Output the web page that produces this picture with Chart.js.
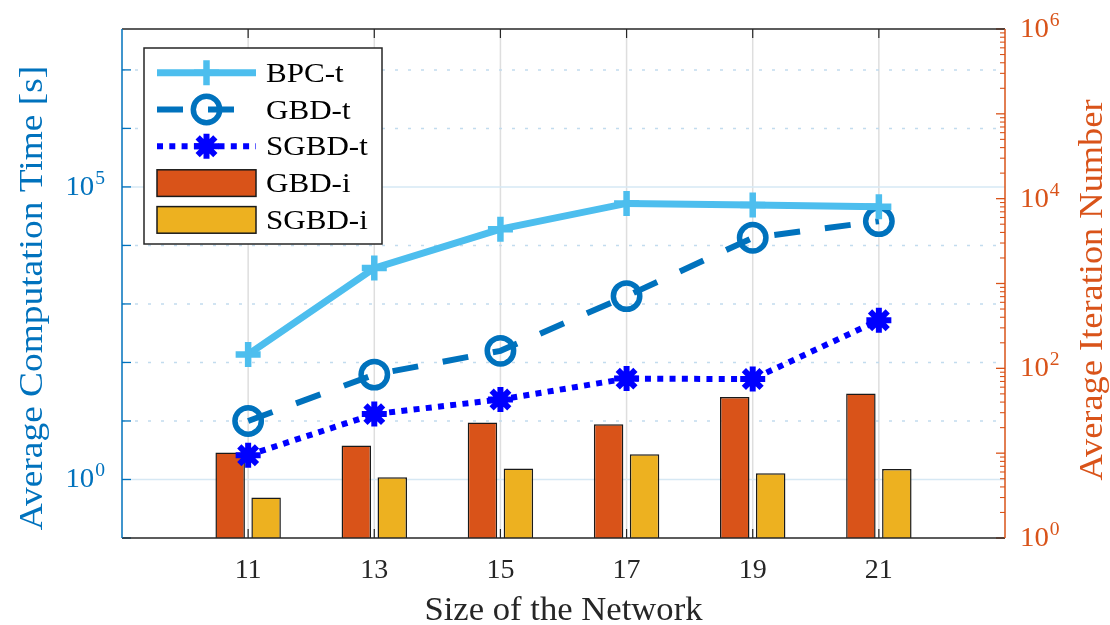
<!DOCTYPE html>
<html>
<head>
<meta charset="utf-8">
<script src="https://cdn.jsdelivr.net/npm/chart.js@4.4.0/dist/chart.umd.min.js"></script>
<style>
  html, body { margin: 0; padding: 0; background: #ffffff; }
  canvas { display: block; }
</style>
</head>
<body>
<canvas id="c" width="1110" height="625"></canvas>
<script>
// Network sizes (x positions)
const sizes = [11, 13, 15, 17, 19, 21];

// Average computation time [s] (left, logarithmic axis)
const bpcTime  = [137, 4100, 19000, 52200, 48900, 45700];
const gbdTime  = [10, 62, 158, 1360, 13500, 26000];
const sgbdTime = [2.6, 13.1, 23.3, 53, 52, 528];

// Average iteration number (right, logarithmic axis)
const gbdIter  = [10.2, 12.3, 23, 21.9, 46, 50.5];
const sgbdIter = [3.0, 5.2, 6.6, 9.7, 5.8, 6.5];

// Labelled decades on each y axis
const leftTickExps  = [0, 5];
const rightTickExps = [0, 2, 4, 6];

const xTitle      = 'Size of the Network';
const yLeftTitle  = 'Average Computation Time [s]';
const yRightTitle = 'Average Iteration Number';

const C_LEFT  = '#0072BD';
const C_RIGHT = '#D95319';
const C_AXIS  = '#262626';
const SERIF   = '"Liberation Serif", "Times New Roman", serif';

const pts = (ys) => sizes.map((x, i) => ({ x, y: ys[i] }));

function txt(ctx, s, x, y, o) {
  ctx.save();
  ctx.translate(x, y);
  if (o.rot) ctx.rotate(o.rot);
  ctx.scale(o.hs || 1, 1);
  ctx.font = `${o.size}px ${SERIF}`;
  ctx.textAlign = o.align || 'left';
  ctx.textBaseline = 'alphabetic';
  ctx.fillStyle = o.color;
  ctx.fillText(s, 0, 0);
  ctx.restore();
}

function powLabel(ctx, exp, x, y, align, color) {
  const hs = 1.03;
  ctx.font = `28px ${SERIF}`;
  const wBase = ctx.measureText('10').width * hs;
  ctx.font = `19px ${SERIF}`;
  const wExp = ctx.measureText(String(exp)).width * hs;
  const gap = 1;
  const x0 = align === 'right' ? x - (wBase + gap + wExp) : x;
  txt(ctx, '10', x0, y + 8, { size: 28, color, hs });
  txt(ctx, String(exp), x0 + wBase + gap, y - 3, { size: 19, color, hs });
}

function marker(ctx, style, x, y, r, color, width) {
  ctx.save();
  ctx.strokeStyle = color;
  ctx.lineWidth = width;
  ctx.setLineDash([]);
  ctx.lineCap = 'butt';
  ctx.beginPath();
  if (style === 'circle') {
    ctx.arc(x, y, r, 0, Math.PI * 2);
  } else {
    ctx.moveTo(x - r, y); ctx.lineTo(x + r, y);
    ctx.moveTo(x, y - r); ctx.lineTo(x, y + r);
    if (style === 'star') {
      const d = r * Math.SQRT1_2;
      ctx.moveTo(x - d, y - d); ctx.lineTo(x + d, y + d);
      ctx.moveTo(x + d, y - d); ctx.lineTo(x - d, y + d);
    }
  }
  ctx.stroke();
  ctx.restore();
}

function hline(ctx, x0, x1, y, color, w, dash) {
  ctx.save();
  ctx.strokeStyle = color; ctx.lineWidth = w; ctx.setLineDash(dash || []);
  ctx.beginPath(); ctx.moveTo(x0, y); ctx.lineTo(x1, y); ctx.stroke();
  ctx.restore();
}
function vline(ctx, x, y0, y1, color, w) {
  ctx.save();
  ctx.strokeStyle = color; ctx.lineWidth = w;
  ctx.beginPath(); ctx.moveTo(x, y0); ctx.lineTo(x, y1); ctx.stroke();
  ctx.restore();
}

const frame = {
  id: 'frame',
  beforeDatasetsDraw(chart) {
    const { ctx, chartArea: a, scales } = chart;
    const yL = scales.yL, x = scales.x;
    // vertical grid at each network size
    sizes.forEach(v => vline(ctx, x.getPixelForValue(v), a.top, a.bottom, '#dedede', 1.5));
    // decade grid of the left axis
    for (let e = 0; e <= 7; e++) {
      const py = yL.getPixelForValue(Math.pow(10, e));
      if (leftTickExps.includes(e)) hline(ctx, a.left, a.right, py, '#d6e8f4', 1.5);
      else hline(ctx, a.left, a.right, py, '#c2dcee', 1.5, [3, 10]);
    }
  },
  afterDatasetsDraw(chart) {
    const { ctx, chartArea: a, scales } = chart;
    const yL = scales.yL, yR = scales.yR, x = scales.x;

    // ticks on the x axis (bottom and top, pointing inward)
    sizes.forEach(v => {
      const px = x.getPixelForValue(v);
      vline(ctx, px, a.bottom, a.bottom - 9, C_AXIS, 1.2);
      vline(ctx, px, a.top, a.top + 9, C_AXIS, 1.2);
    });
    // left axis ticks at each decade
    for (let e = -1; e <= 7; e++) {
      const py = yL.getPixelForValue(Math.pow(10, e));
      hline(ctx, a.left, a.left + 9, py, C_LEFT, 1.3);
    }
    // right axis major and minor ticks
    for (let e = 0; e <= 6; e++) {
      const py = yR.getPixelForValue(Math.pow(10, e));
      hline(ctx, a.right - 9, a.right, py, C_RIGHT, 1.3);
      if (e < 6) {
        for (let m = 2; m <= 9; m++) {
          const pm = yR.getPixelForValue(m * Math.pow(10, e));
          hline(ctx, a.right - 5, a.right, pm, C_RIGHT, 1.1);
        }
      }
    }
    // box
    hline(ctx, a.left, a.right, a.top, C_AXIS, 1.5);
    hline(ctx, a.left, a.right, a.bottom, C_AXIS, 1.6);
    vline(ctx, a.left, a.top, a.bottom, C_LEFT, 1.5);
    vline(ctx, a.right, a.top, a.bottom, C_RIGHT, 1.5);

    // tick labels
    sizes.forEach(v => txt(ctx, String(v), x.getPixelForValue(v), 578, { size: 28, color: C_AXIS, align: 'center', hs: 1.0 }));
    leftTickExps.forEach(e => powLabel(ctx, e, 105, yL.getPixelForValue(Math.pow(10, e)), 'right', C_LEFT));
    rightTickExps.forEach(e => powLabel(ctx, e, 1020, yR.getPixelForValue(Math.pow(10, e)), 'left', C_RIGHT));

    // axis titles
    txt(ctx, xTitle, (a.left + a.right) / 2, 620, { size: 33, color: C_AXIS, align: 'center', hs: 1.05 });
    txt(ctx, yLeftTitle, 42, 298, { size: 34, color: C_LEFT, align: 'center', hs: 1.1, rot: -Math.PI / 2 });
    txt(ctx, yRightTitle, 1102, 290, { size: 34, color: C_RIGHT, align: 'center', hs: 1.07, rot: -Math.PI / 2 });

    // legend
    const L = { x: 144, y: 48, w: 238, h: 196 };
    ctx.save();
    ctx.fillStyle = '#ffffff';
    ctx.fillRect(L.x, L.y, L.w, L.h);
    ctx.strokeStyle = C_AXIS; ctx.lineWidth = 1.5;
    ctx.strokeRect(L.x, L.y, L.w, L.h);
    ctx.restore();
    const sx0 = 157, sx1 = 256, smid = 206.5;
    chart.data.datasets.forEach((ds, i) => {
      const cy = 72.7 + i * 36.8;
      if (ds.type === 'line') {
        ctx.save();
        ctx.strokeStyle = ds.borderColor; ctx.lineWidth = ds.borderWidth;
        ctx.setLineDash(ds.borderDash || []); ctx.lineCap = 'butt';
        ctx.beginPath(); ctx.moveTo(sx0, cy); ctx.lineTo(sx1, cy); ctx.stroke();
        ctx.restore();
        marker(ctx, ds.pointStyle, smid, cy, ds.pointRadius, ds.pointBorderColor, ds.pointBorderWidth);
      } else {
        ctx.save();
        ctx.fillStyle = ds.backgroundColor;
        ctx.fillRect(sx0, cy - 13.3, sx1 - sx0, 26.6);
        ctx.strokeStyle = '#1a1a1a'; ctx.lineWidth = 1.5;
        ctx.strokeRect(sx0, cy - 13.3, sx1 - sx0, 26.6);
        ctx.restore();
      }
      txt(ctx, ds.label, 266, cy + 9, { size: 27, color: '#000000', hs: 1.15 });
    });
  }
};

new Chart(document.getElementById('c'), {
  type: 'bar',
  data: {
    datasets: [
      {
        type: 'line', label: 'BPC-t', data: pts(bpcTime), yAxisID: 'yL', order: 0,
        borderColor: '#4DBEEE', borderWidth: 7, fill: false,
        pointStyle: 'cross', pointRadius: 12.5, pointBorderWidth: 6.5,
        pointBorderColor: '#4DBEEE', pointBackgroundColor: '#4DBEEE'
      },
      {
        type: 'line', label: 'GBD-t', data: pts(gbdTime), yAxisID: 'yL', order: 0,
        borderColor: '#0072BD', borderWidth: 6, borderDash: [26, 25], fill: false,
        pointStyle: 'circle', pointRadius: 13.2, pointBorderWidth: 5.5,
        pointBorderColor: '#0072BD', pointBackgroundColor: 'rgba(0,0,0,0)'
      },
      {
        type: 'line', label: 'SGBD-t', data: pts(sgbdTime), yAxisID: 'yL', order: 0,
        borderColor: '#0000FF', borderWidth: 6, borderDash: [6, 6.3], fill: false,
        pointStyle: 'star', pointRadius: 12.5, pointBorderWidth: 6,
        pointBorderColor: '#0000FF', pointBackgroundColor: '#0000FF'
      },
      {
        type: 'bar', label: 'GBD-i', data: pts(gbdIter), yAxisID: 'yR', order: 1,
        backgroundColor: '#D95319', borderColor: '#1a1a1a', borderWidth: 1.5,
        borderSkipped: 'start', categoryPercentage: 0.57, barPercentage: 0.82
      },
      {
        type: 'bar', label: 'SGBD-i', data: pts(sgbdIter), yAxisID: 'yR', order: 1,
        backgroundColor: '#EDB120', borderColor: '#1a1a1a', borderWidth: 1.5,
        borderSkipped: 'start', categoryPercentage: 0.57, barPercentage: 0.82
      }
    ]
  },
  options: {
    responsive: false,
    animation: false,
    devicePixelRatio: 1,
    layout: { padding: { left: 122, top: 29, right: 105, bottom: 87 } },
    plugins: { legend: { display: false }, tooltip: { enabled: false } },
    scales: {
      x: {
        type: 'linear', min: 9, max: 23, offset: false, display: false,
        ticks: { stepSize: 2 },
        afterBuildTicks: (s) => { s.ticks = sizes.map(v => ({ value: v })); }
      },
      yL: { type: 'logarithmic', position: 'left', min: 0.1, max: 5e7, display: false },
      yR: { type: 'logarithmic', position: 'right', min: 1, max: 1e6, display: false }
    }
  },
  plugins: [frame]
});
</script>
</body>
</html>
